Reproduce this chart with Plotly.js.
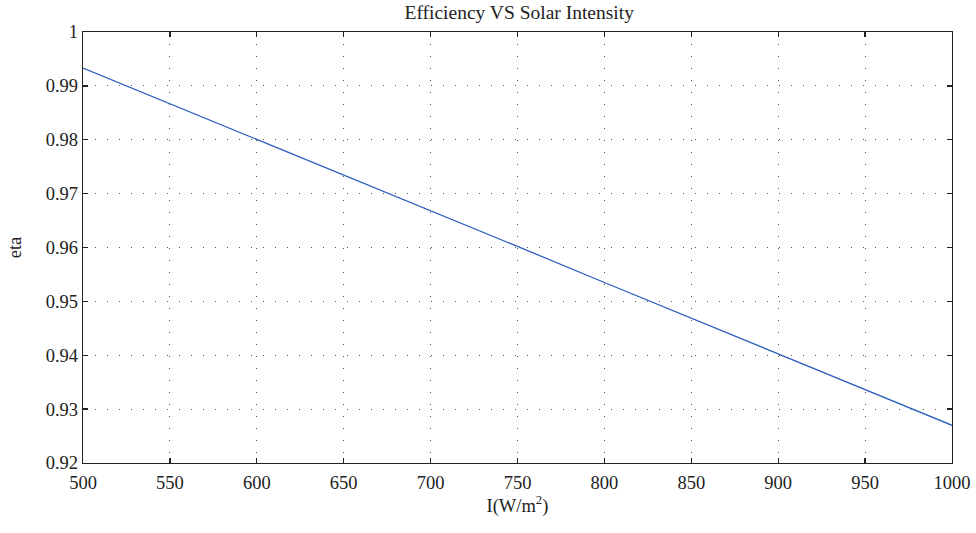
<!DOCTYPE html>
<html>
<head>
<meta charset="utf-8">
<script src="https://cdn.plot.ly/plotly-3.0.1.min.js"></script>
<style>html,body{margin:0;padding:0;background:#fff;}#chart{width:976px;height:533px;}</style>
</head>
<body>
<div id="chart"></div>
<script>
const intensity = [500, 550, 600, 650, 700, 750, 800, 850, 900, 950, 1000];
const efficiency = [0.9933, 0.9867, 0.9800, 0.9734, 0.9668, 0.9602, 0.9535, 0.9469, 0.9403, 0.9336, 0.9270];
const xTicks = [500, 550, 600, 650, 700, 750, 800, 850, 900, 950, 1000];
const yTicks = [0.92, 0.93, 0.94, 0.95, 0.96, 0.97, 0.98, 0.99, 1];
const yTickText = ['0.92', '0.93', '0.94', '0.95', '0.96', '0.97', '0.98', '0.99', '1'];

const font = {family: 'Liberation Serif, DejaVu Serif, serif', size: 18.5, color: '#222'};
const axisCommon = {
  showline: true, linecolor: '#222', linewidth: 1.3, mirror: 'ticks',
  ticks: 'inside', ticklen: 5, tickcolor: '#222', tickwidth: 1.3,
  showgrid: true, gridcolor: '#555', gridwidth: 1, griddash: '1px,11px',
  zeroline: false, tickfont: font
};
const layout = {
  width: 976, height: 533,
  margin: {l: 83, r: 24, t: 32, b: 70},
  paper_bgcolor: '#fff', plot_bgcolor: '#fff',
  showlegend: false,
  title: {text: 'Efficiency VS Solar Intensity', font: {family: font.family, size: 19.5, color: '#222'}, x: 0.532, xanchor: 'center', y: 0.977, yanchor: 'middle'},
  xaxis: Object.assign({}, axisCommon, {range: [500, 1000], tickvals: xTicks, ticktext: xTicks.map(String),
    ticklabelstandoff: 2,
    title: {text: 'I(W/m<sup>2</sup>)', font: font, standoff: 0}}),
  yaxis: Object.assign({}, axisCommon, {range: [0.92, 1], tickvals: yTicks, ticktext: yTickText,
    title: {text: 'eta', font: font, standoff: 19}})
};
Plotly.newPlot('chart', [{
  x: intensity, y: efficiency, type: 'scatter', mode: 'lines',
  line: {color: '#2f5fbf', width: 1.3}, hoverinfo: 'skip'
}], layout, {displayModeBar: false, staticPlot: true});
</script>
</body>
</html>
